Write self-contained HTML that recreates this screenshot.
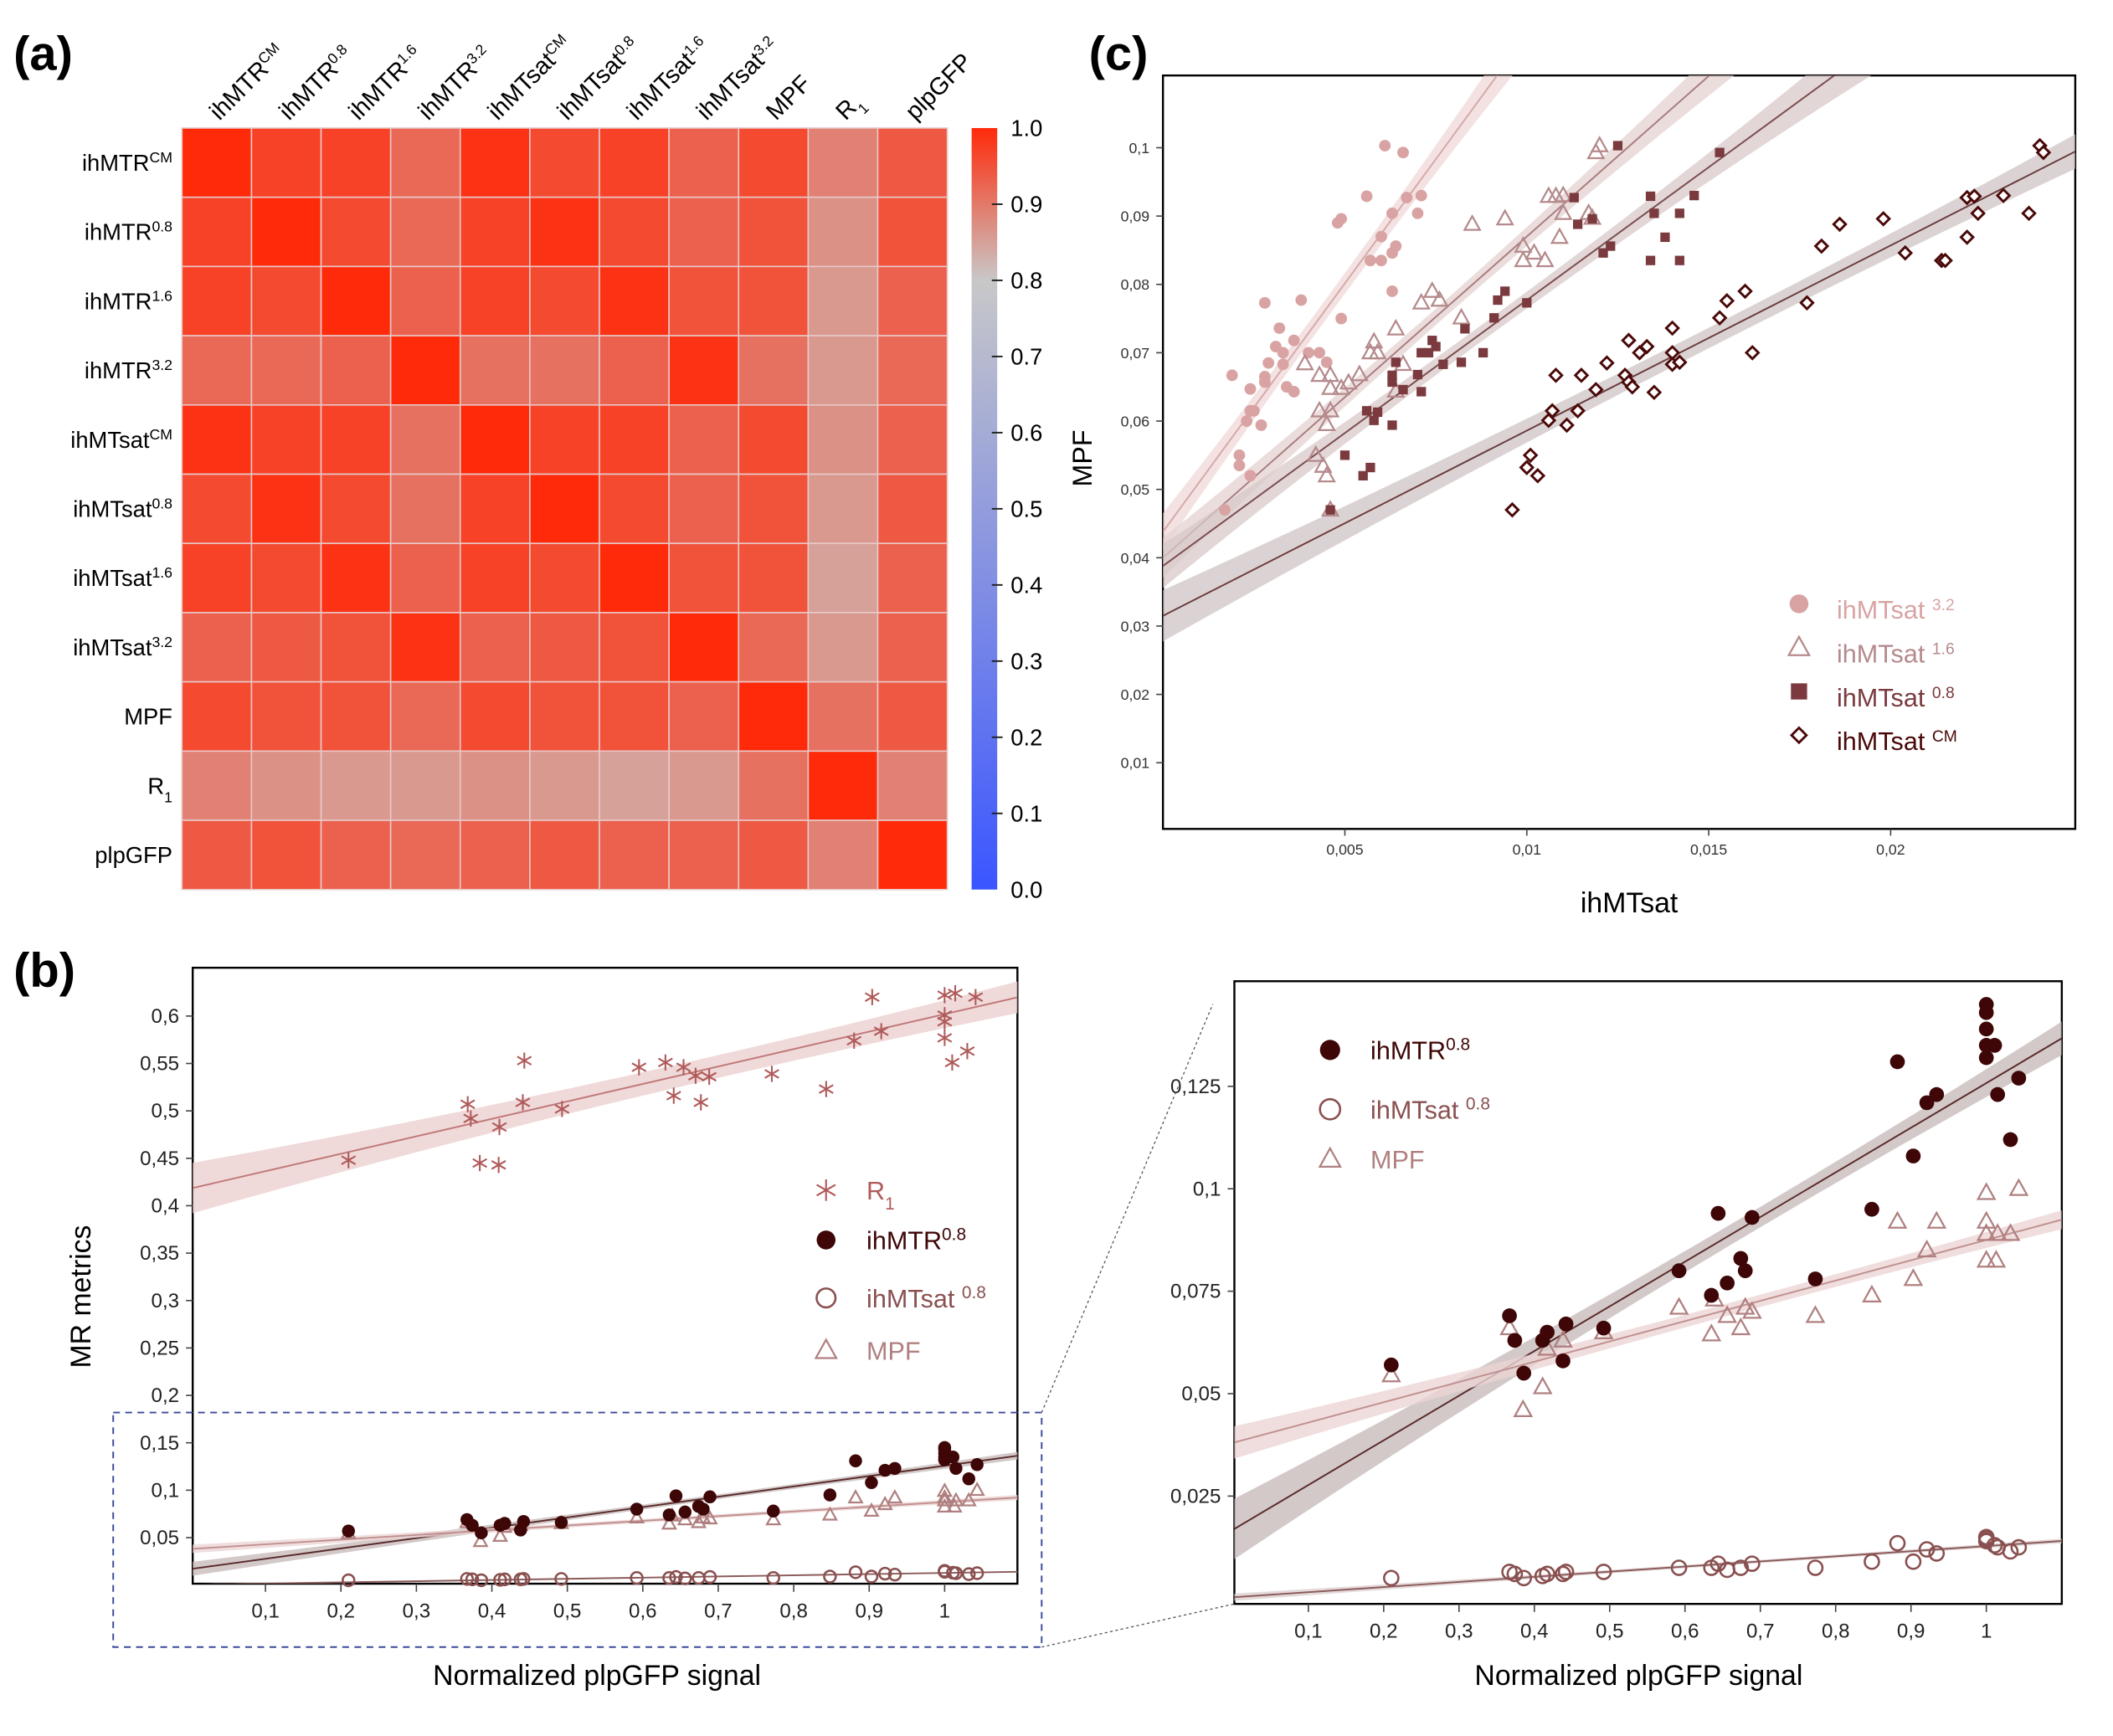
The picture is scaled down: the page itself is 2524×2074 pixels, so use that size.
<!DOCTYPE html>
<html><head><meta charset="utf-8"><style>
html,body{margin:0;padding:0;background:#fff;}
svg{display:block;font-family:"Liberation Sans",sans-serif;}
</style></head><body>
<svg id="fig" xmlns="http://www.w3.org/2000/svg" width="2524" height="2074" viewBox="0 0 1568 1288" preserveAspectRatio="none">
<defs>
<linearGradient id="cbar" x1="0" y1="1" x2="0" y2="0">
<stop offset="0" stop-color="#3a55ff"/><stop offset="0.8" stop-color="#c8c8c8"/><stop offset="1" stop-color="#ff2a0a"/>
</linearGradient>
<clipPath id="clipC"><rect x="863" y="56" width="677" height="559"/></clipPath>
<clipPath id="clipB"><rect x="143" y="718" width="612" height="457"/></clipPath>
<clipPath id="clipR"><rect x="916" y="728" width="614" height="462"/></clipPath>
</defs>
<text x="10" y="52" font-size="36" font-weight="bold">(a)</text>
<text x="10" y="732" font-size="36" font-weight="bold">(b)</text>
<text x="808" y="52" font-size="36" font-weight="bold">(c)</text>
<g id="heat"></g>
<g id="cb">
<rect x="721" y="95" width="19" height="565" fill="url(#cbar)"/>
</g>
<g id="pc"></g>
<g id="pb"></g>
<g id="pr"></g>
<rect x="84" y="1048" width="689" height="174" fill="none" stroke="#3a4a9a" stroke-width="1.2" stroke-dasharray="5,4"/>
<line x1="773" y1="1048" x2="900" y2="745" stroke="#555" stroke-width="0.8" stroke-dasharray="2,2"/>
<line x1="773" y1="1222" x2="916" y2="1190" stroke="#555" stroke-width="0.8" stroke-dasharray="2,2"/>
</svg>
<script>
const heatLabels=[["ihMTR","CM"],["ihMTR","0.8"],["ihMTR","1.6"],["ihMTR","3.2"],["ihMTsat","CM"],["ihMTsat","0.8"],["ihMTsat","1.6"],["ihMTsat","3.2"],["MPF",""],["R","1"],["plpGFP",""]];
const heatValues=[
[1,.97,.97,.92,.99,.96,.97,.93,.96,.89,.94],
[.97,1,.96,.92,.97,.99,.96,.93,.95,.87,.95],
[.97,.96,1,.93,.97,.96,.99,.95,.95,.86,.93],
[.92,.92,.93,1,.91,.91,.93,.99,.91,.86,.92],
[.99,.97,.97,.91,1,.97,.97,.93,.96,.87,.93],
[.96,.99,.96,.91,.97,1,.96,.93,.95,.86,.94],
[.97,.96,.99,.93,.97,.96,1,.95,.95,.85,.93],
[.93,.94,.95,.99,.93,.94,.95,1,.92,.86,.93],
[.96,.95,.95,.92,.96,.95,.95,.93,1,.91,.94],
[.89,.87,.86,.86,.87,.86,.85,.86,.91,1,.89],
[.94,.95,.93,.92,.93,.94,.93,.93,.94,.89,1]];
const cbTicks=[0,.1,.2,.3,.4,.5,.6,.7,.8,.9,1];

const c32x=[.0017,.0019,.0021,.0021,.0024,.0023,.0024,.0025,.0024,.0027,.0028,.0028,.0029,.0028,.0031,.0032,.0033,.0033,.0034,.0036,.0036,.0038,.0040,.0043,.0045,.0048,.0049,.0049,.0056,.0057,.0060,.0060,.0061,.0063,.0063,.0063,.0064,.0066,.0067,.0070,.0071];
const c32y=[.047,.0667,.055,.0535,.052,.060,.0615,.0615,.0647,.0594,.0773,.0665,.0685,.0657,.0709,.0736,.070,.0683,.065,.0643,.0718,.0777,.070,.070,.0686,.089,.0896,.075,.0929,.0835,.0835,.087,.1003,.079,.0904,.0846,.0856,.0993,.0927,.0904,.093];
const c16x=[.0039,.0042,.0043,.0044,.0045,.0043,.0045,.0046,.0046,.0046,.0046,.0049,.0051,.0054,.0057,.0058,.0059,.0064,.0064,.0066,.0071,.0074,.0076,.0082,.0085,.0094,.0099,.0099,.0102,.0105,.0106,.0108,.0110,.0109,.0110,.0117,.0118,.0119,.0120];
const c16y=[.0684,.055,.0667,.0534,.052,.0615,.0595,.0667,.0648,.0615,.047,.0648,.0656,.0668,.070,.0716,.070,.0735,.0644,.0683,.0773,.079,.0777,.0751,.0888,.0896,.0856,.0835,.0846,.0835,.0929,.0929,.0904,.0869,.093,.0904,.0897,.0993,.1003];
const c08x=[.0046,.0050,.0055,.0056,.0057,.0058,.0059,.0063,.0063,.0063,.0064,.0066,.0070,.0071,.0071,.0073,.0074,.0075,.0077,.0082,.0083,.0088,.0091,.0092,.0094,.0100,.0113,.0114,.0118,.0121,.0123,.0125,.0134,.0134,.0135,.0138,.0142,.0142,.0146,.0153];
const c08y=[.047,.055,.052,.0615,.0532,.0601,.0613,.0594,.0667,.0657,.0686,.0646,.0668,.0643,.070,.070,.0718,.0709,.0683,.0686,.0735,.070,.0751,.0777,.079,.0773,.0927,.0888,.0896,.0846,.0856,.1003,.0929,.0835,.0904,.0869,.0904,.0835,.093,.0993];
const cCMx=[.0096,.0100,.0101,.0103,.0106,.0107,.0108,.0111,.0114,.0115,.0119,.0122,.0127,.0128,.0128,.0129,.0131,.0133,.0135,.0140,.0140,.0140,.0142,.0153,.0155,.0160,.0162,.0177,.0181,.0186,.0198,.0204,.0214,.0215,.0221,.0221,.0223,.0224,.0231,.0238,.0241,.0242];
const cCMy=[.047,.0532,.055,.052,.0601,.0615,.0667,.0594,.0615,.0667,.0646,.0685,.0667,.0718,.0657,.065,.070,.0709,.0642,.0736,.070,.0683,.0686,.0751,.0776,.079,.070,.0773,.0856,.0888,.0896,.0846,.0835,.0835,.0927,.0869,.0929,.0904,.093,.0904,.1003,.0993];
const cFitIntercept=[.0438,.040,.0388,.0315];
const cFitSlope=[7.27,4.7,3.89,2.71];
const cYTicks=[.01,.02,.03,.04,.05,.06,.07,.08,.09,.1];
const cYTickLabels=["0,01","0,02","0,03","0,04","0,05","0,06","0,07","0,08","0,09","0,1"];
const cXTicks=[.005,.01,.015,.02];
const cXTickLabels=["0,005","0,01","0,015","0,02"];

const bR1x=[.21,.368,.372,.384,.409,.41,.441,.443,.493,.595,.63,.641,.654,.67,.677,.688,.771,.843,.88,.904,.916,1.0,1.0,1.0,1.0,1.01,1.014,1.03,1.041];
const bR1y=[.448,.507,.492,.445,.443,.483,.509,.553,.502,.546,.551,.516,.546,.537,.509,.536,.539,.523,.574,.62,.584,.622,.601,.577,.594,.551,.624,.563,.62];
const trX=[.21,.367,.374,.386,.411,.417,.438,.442,.492,.592,.635,.644,.656,.674,.68,.689,.773,.848,.882,.903,.921,.934,1.0,1.0,1.0,1.0,1.0,1.011,1.015,1.032,1.043];
const trY=[.057,.069,.063,.055,.063,.065,.058,.067,.066,.080,.074,.094,.077,.083,.080,.093,.078,.095,.131,.108,.121,.123,.145,.143,.139,.135,.132,.135,.123,.112,.127];
const mpfX=[.21,.367,.385,.411,.417,.438,.492,.592,.635,.639,.656,.674,.68,.689,.773,.848,.882,.903,.921,.934,1.0,1.0,1.0,1.0,1.015,1.032,1.043,1.013];
const mpfY=[.0545,.066,.046,.0516,.061,.063,.065,.071,.0645,.073,.069,.066,.071,.070,.069,.074,.092,.078,.085,.092,.099,.092,.089,.0825,.089,.089,.100,.0825];
const satX=[.21,.367,.374,.386,.411,.417,.438,.442,.492,.592,.635,.644,.656,.674,.689,.773,.848,.882,.903,.921,.934,1.0,1.0,1.0,1.011,1.015,1.032,1.043];
const satY=[.005,.0065,.006,.005,.0055,.006,.006,.0065,.0065,.0075,.0075,.0085,.007,.0075,.0085,.0075,.009,.0135,.009,.012,.011,.015,.0145,.014,.013,.0125,.0115,.0125];
const bFitIntercept=[.418,.0168,.038,.0003];
const bFitSlope=[.184,.109,.0495,.0125];
const bYTicks=[.05,.1,.15,.2,.25,.3,.35,.4,.45,.5,.55,.6];
const bYTickLabels=["0,05","0,1","0,15","0,2","0,25","0,3","0,35","0,4","0,45","0,5","0,55","0,6"];
const xPlpTicks=[.1,.2,.3,.4,.5,.6,.7,.8,.9,1];
const xPlpTickLabels=["0,1","0,2","0,3","0,4","0,5","0,6","0,7","0,8","0,9","1"];
const rYTicks=[.025,.05,.075,.1,.125];
const rYTickLabels=["0,025","0,05","0,075","0,1","0,125"];

const NS="http://www.w3.org/2000/svg";
function mk(tag,attrs,parent){const e=document.createElementNS(NS,tag);for(const k in attrs)e.setAttribute(k,attrs[k]);parent.appendChild(e);return e;}
function lerp(a,b,t){return Math.round(a+(b-a)*t);}
function cmap(v){
  let c;
  if(v>=0.8){const t=(v-0.8)/0.2;c=[lerp(200,255,t),lerp(200,42,t),lerp(200,10,t)];}
  else{const t=v/0.8;c=[lerp(58,200,t),lerp(85,200,t),lerp(255,200,t)];}
  return "rgb("+c.join(",")+")";
}
function labelText(parent,x,y,base,sup,attrs,name){
  const t=mk("text",Object.assign({x:x,y:y},attrs),parent);
  
  
  t.appendChild(document.createTextNode(base));
  if(sup){const s=mk("tspan",{"baseline-shift":sup==="1"?"sub":"super","font-size":"11"},t);s.textContent=sup;}
  return t;
}
const heat=document.getElementById("heat");
const hx0=135,hy0=95,hw=(703-135)/11,hh=(660-95)/11;
function hX(j){return hx0+j*hw;}
function hY(i){return hy0+i*hh;}
heatValues.forEach((row,i)=>row.forEach((v,j)=>{
  const r=mk("rect",{x:hX(j),y:hY(i),width:hw,height:hh,fill:cmap(v),stroke:"#e8c8c8","stroke-width":1},heat);
  
  
}));
heatLabels.forEach((l,i)=>{
  labelText(heat,128,hY(i)+hh/2+6,l[0],l[1],{"text-anchor":"end","font-size":"17"},"row-label-"+i);
  const cx=hX(i)+hw/2+2,cy=90;
  labelText(heat,cx,cy,l[0],l[1],{"font-size":"18",transform:"rotate(-45 "+cx+" "+cy+")"},"column-label-"+i);
});
const cb=document.getElementById("cb");
function cbY(v){return 660-v*565;}
cbTicks.forEach((v,k)=>{
  if(k>0&&k<10){const l=mk("line",{x1:736,x2:744,y1:cbY(v),y2:cbY(v),stroke:"#222","stroke-width":1.2},cb);
  
  }
  const t=mk("text",{x:750,y:cbY(v)+6,"font-size":"17"},cb);
  
  
  t.textContent=v.toFixed(1);
});
function marker(g,type,x,y,s,color,name){
  let e;
  if(type==="circle")e=mk("circle",{cx:x,cy:y,r:s,fill:color},g);
  else if(type==="ocircle")e=mk("circle",{cx:x,cy:y,r:s,fill:"none",stroke:color,"stroke-width":1.6},g);
  else if(type==="square")e=mk("rect",{x:x-s,y:y-s,width:2*s,height:2*s,fill:color},g);
  else if(type==="diamond")e=mk("polygon",{points:[x,y-s,x+s,y,x,y+s,x-s,y].join(","),fill:"#fff",stroke:color,"stroke-width":1.8},g);
  else if(type==="tri")e=mk("polygon",{points:[x,y-s,x+s*0.95,y+s*0.7,x-s*0.95,y+s*0.7].join(","),fill:"none",stroke:color,"stroke-width":1.4},g);
  else if(type==="star"){
    let d="";for(let a=0;a<3;a++){const ang=Math.PI/2+a*Math.PI/3;const dx=Math.cos(ang)*s,dy=Math.sin(ang)*s;d+="M"+(x-dx)+","+(y-dy)+"L"+(x+dx)+","+(y+dy);}
    e=mk("path",{d:d,stroke:color,"stroke-width":1.3,fill:"none"},g);
  }
  
  
  return e;
}
function fitLine(g,sx,sy,a,b,x0,x1,xm,w0,k,lineCol,bandCol,bandOp,name,clip){
  const n=40,up=[],dn=[];
  for(let i=0;i<=n;i++){const x=x0+(x1-x0)*i/n;const y=a+b*x;const h=w0+k*(x-xm)*(x-xm);up.push(sx(x)+","+sy(y+h));dn.unshift(sx(x)+","+sy(y-h));}
  const p=mk("polygon",{points:up.concat(dn).join(" "),fill:bandCol,"fill-opacity":bandOp,"clip-path":clip},g);
  
  
  const l=mk("line",{x1:sx(x0),y1:sy(a+b*x0),x2:sx(x1),y2:sy(a+b*x1),stroke:lineCol,"stroke-width":1.2,"clip-path":clip},g);
  
  
}
function txt(g,x,y,s,attrs,name){const t=mk("text",Object.assign({x:x,y:y},attrs),g);t.textContent=s;return t;}
const pc=document.getElementById("pc");
function cX(v){return 863+v*27000;}
function cY(v){return 616.6-v*5070;}
const fr=mk("rect",{x:863,y:56,width:677,height:559,fill:"none",stroke:"#000","stroke-width":1.5},pc);


const cCols=["#d9a3a3","#b58a8c","#7a3a3e","#4a0808"];
const cLine=["#d4a8a8","#a87c7e","#7a4a4c","#6a3a3c"];
const cBand=["#f0d8d8","#e6d2d2","#d8c8c8","#cfc4c4"];
const cX1=[.0125,.02,.023,.0258];
const cXm=[.0045,.0075,.009,.015];
for(let s=0;s<4;s++)fitLine(pc,cX,cY,cFitIntercept[s],cFitSlope[s],0,cX1[s],cXm[s],[.0015,.0012,.0012,.0015][s],[60,30,25,10][s],cLine[s],cBand[s],0.75,"panel-c-series-"+s,"url(#clipC)");
c32x.forEach((x,i)=>marker(pc,"circle",cX(x),cY(c32y[i]),4.3,cCols[0],"point-ihmtsat-3-2"));
c16x.forEach((x,i)=>marker(pc,"tri",cX(x),cY(c16y[i]),6,cCols[1],"point-ihmtsat-1-6"));
c08x.forEach((x,i)=>marker(pc,"square",cX(x),cY(c08y[i]),3.5,cCols[2],"point-ihmtsat-0-8"));
cCMx.forEach((x,i)=>marker(pc,"diamond",cX(x),cY(cCMy[i]),4.5,cCols[3],"point-ihmtsat-cm"));
cYTicks.forEach((v,i)=>{const l=mk("line",{x1:863,x2:858,y1:cY(v),y2:cY(v),stroke:"#444"},pc);
  txt(pc,853,cY(v)+4,cYTickLabels[i],{"text-anchor":"end","font-size":"11",fill:"#333"},"c-y-tick-label");});
cXTicks.forEach((v,i)=>{const l=mk("line",{x1:cX(v),x2:cX(v),y1:615,y2:620,stroke:"#444"},pc);
  txt(pc,cX(v),634,cXTickLabels[i],{"text-anchor":"middle","font-size":"11",fill:"#333"},"c-x-tick-label");});
txt(pc,1209,677,"ihMTsat",{"text-anchor":"middle","font-size":"21"},"c-x-axis-title");
txt(pc,0,0,"MPF",{"text-anchor":"middle","font-size":"20",transform:"translate(810,340) rotate(-90)"},"c-y-axis-title");
const legC=[["circle","3.2"],["tri","1.6"],["square","0.8"],["diamond","CM"]];
legC.forEach((l,i)=>{const y=451+i*32.5;marker(pc,l[0],1335,y-3,l[0]==="circle"?7:l[0]==="tri"?8:l[0]==="square"?6:5.5,cCols[i],"legend-marker-"+i);
  const t=txt(pc,1363,y+8,"ihMTsat ",{"font-size":"19",fill:cCols[i]},"legend-label-"+i);const s=mk("tspan",{"baseline-shift":"super","font-size":"12"},t);s.textContent=l[1];});
const pb=document.getElementById("pb");
function bX(v){return 141+v*560;}
function bY(v){return 1176-v*703.6;}
const fb=mk("rect",{x:143,y:718,width:612,height:457,fill:"none",stroke:"#000","stroke-width":1.5},pb);


const bCols=["#b05a5a","#3e0606","#8a5050","#b08080"];
const bLine=["#c07878","#5a2a2a","#c09090","#8a5a5a"];
const bBand=["#ecd0d0","#c8bcbc","#ecd4d4","#ddd0d0"];
fitLine(pb,bX,bY,bFitIntercept[0],bFitSlope[0],0,1.1,.7,.012,.03,bLine[0],bBand[0],0.8,"panel-b-r1","url(#clipB)");
fitLine(pb,bX,bY,bFitIntercept[1],bFitSlope[1],0,1.1,.7,.0025,.01,bLine[1],bBand[1],0.8,"panel-b-ihmtr","url(#clipB)");
fitLine(pb,bX,bY,bFitIntercept[2],bFitSlope[2],0,1.1,.7,.002,.005,bLine[2],bBand[2],0.8,"panel-b-mpf","url(#clipB)");
fitLine(pb,bX,bY,bFitIntercept[3],bFitSlope[3],0,1.1,.7,.0005,.001,bLine[3],bBand[3],0.8,"panel-b-ihmtsat","url(#clipB)");
bR1x.forEach((x,i)=>marker(pb,"star",bX(x),bY(bR1y[i]),6,bCols[0],"point-r1"));
mpfX.forEach((x,i)=>marker(pb,"tri",bX(x),bY(mpfY[i]),5,bCols[3],"point-mpf"));
satX.forEach((x,i)=>marker(pb,"ocircle",bX(x),bY(satY[i]),4.3,bCols[2],"point-ihmtsat-0-8"));
trX.forEach((x,i)=>marker(pb,"circle",bX(x),bY(trY[i]),4.8,bCols[1],"point-ihmtr-0-8"));
bYTicks.forEach((v,i)=>{const l=mk("line",{x1:143,x2:138,y1:bY(v),y2:bY(v),stroke:"#444"},pb);
  txt(pb,133,bY(v)+5,bYTickLabels[i],{"text-anchor":"end","font-size":"15",fill:"#222"},"b-y-tick-label");});
xPlpTicks.forEach((v,i)=>{const l=mk("line",{x1:bX(v),x2:bX(v),y1:1175,y2:1181,stroke:"#444"},pb);
  txt(pb,bX(v),1200,xPlpTickLabels[i],{"text-anchor":"middle","font-size":"15",fill:"#222"},"b-x-tick-label");});
txt(pb,443,1250,"Normalized plpGFP signal",{"text-anchor":"middle","font-size":"21"},"b-x-axis-title");
txt(pb,0,0,"MR metrics",{"text-anchor":"middle","font-size":"21",transform:"translate(67,962) rotate(-90)"},"b-y-axis-title");
const legB=[["star","R","1",bCols[0],"sub"],["circle","ihMTR","0.8",bCols[1],"super"],["ocircle","ihMTsat ","0.8",bCols[2],"super"],["tri","MPF","",bCols[3],"super"]];
legB.forEach((l,i)=>{const y=[883,920,963,1002][i];marker(pb,l[0],613,y,l[0]==="star"?8:l[0]==="tri"?8:7,l[3],"b-legend-marker-"+i);
  const t=txt(pb,643,y+7,l[1],{"font-size":"19",fill:l[3]},"b-legend-label-"+i);if(l[2]){const s=mk("tspan",{"baseline-shift":l[4],"font-size":"13"},t);s.textContent=l[2];}});
const pr=document.getElementById("pr");
function rX(v){return 915+v*559;}
function rY(v){return 1186-v*3040;}
const frr=mk("rect",{x:916,y:728,width:614,height:462,fill:"none",stroke:"#000","stroke-width":1.5},pr);


fitLine(pr,rX,rY,bFitIntercept[1],bFitSlope[1],0,1.1,.7,.0025,.01,bLine[1],bBand[1],0.8,"zoom-ihmtr","url(#clipR)");
fitLine(pr,rX,rY,bFitIntercept[2],bFitSlope[2],0,1.1,.7,.0015,.005,bLine[2],bBand[2],0.8,"zoom-mpf","url(#clipR)");
fitLine(pr,rX,rY,bFitIntercept[3],bFitSlope[3],0,1.1,.7,.0004,.001,bLine[3],bBand[3],0.8,"zoom-ihmtsat","url(#clipR)");
mpfX.forEach((x,i)=>marker(pr,"tri",rX(x),rY(mpfY[i]),6.5,bCols[3],"zoom-point-mpf"));
satX.forEach((x,i)=>marker(pr,"ocircle",rX(x),rY(satY[i]),5.3,bCols[2],"zoom-point-ihmtsat-0-8"));
trX.forEach((x,i)=>marker(pr,"circle",rX(x),rY(trY[i]),5.5,bCols[1],"zoom-point-ihmtr-0-8"));
rYTicks.forEach((v,i)=>{const l=mk("line",{x1:916,x2:911,y1:rY(v),y2:rY(v),stroke:"#444"},pr);
  txt(pr,906,rY(v)+5,rYTickLabels[i],{"text-anchor":"end","font-size":"15",fill:"#222"},"zoom-y-tick-label");});
xPlpTicks.forEach((v,i)=>{const l=mk("line",{x1:rX(v),x2:rX(v),y1:1190,y2:1196,stroke:"#444"},pr);
  txt(pr,rX(v),1215,xPlpTickLabels[i],{"text-anchor":"middle","font-size":"15",fill:"#222"},"zoom-x-tick-label");});
txt(pr,1216,1250,"Normalized plpGFP signal",{"text-anchor":"middle","font-size":"21"},"zoom-x-axis-title");
const legR=[["circle","ihMTR","0.8",bCols[1]],["ocircle","ihMTsat ","0.8",bCols[2]],["tri","MPF","",bCols[3]]];
legR.forEach((l,i)=>{const y=[779,823,860][i];marker(pr,l[0],987,y,l[0]==="tri"?8:7.5,l[3],"zoom-legend-marker-"+i);
  const t=txt(pr,1017,y+7,l[1],{"font-size":"19",fill:l[3]},"zoom-legend-label-"+i);if(l[2]){const s=mk("tspan",{"baseline-shift":"super","font-size":"13"},t);s.textContent=l[2];}});
</script>
</body></html>
